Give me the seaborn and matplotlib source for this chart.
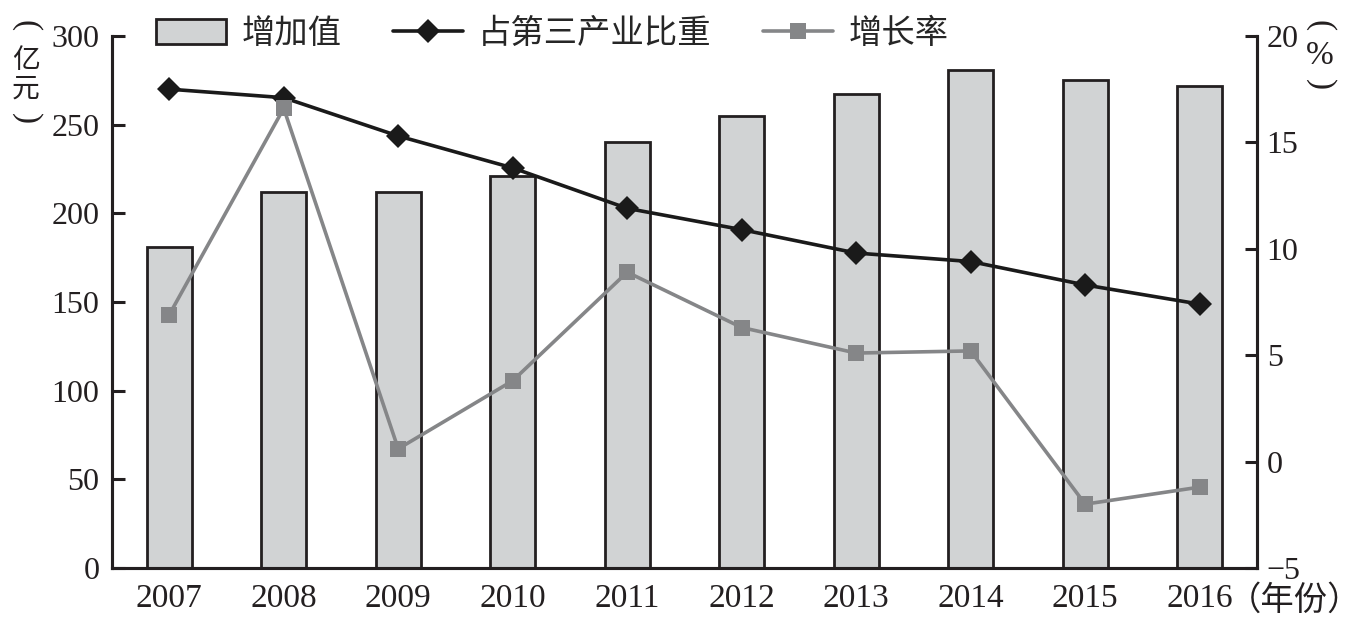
import numpy as np
import pandas as pd
import matplotlib
matplotlib.use('Agg')
import matplotlib.pyplot as plt
import seaborn as sns
from matplotlib.ticker import FixedLocator

# dados
anos = ['2007', '2008', '2009', '2010', '2011', '2012', '2013', '2014', '2015', '2016']
valor_agregado = [181, 212, 212, 221, 240, 255, 267, 281, 275, 272]       # 亿元
peso_terciario = [17.5, 17.1, 15.3, 13.8, 11.9, 10.9, 9.8, 9.4, 8.3, 7.4]  # %
taxa_crescimento = [6.9, 16.6, 0.6, 3.8, 8.9, 6.3, 5.1, 5.2, -2.0, -1.2]  # %

sns.set_theme(style='white')
plt.rcParams['font.family'] = ['Liberation Serif', 'Noto Sans CJK SC']
plt.rcParams['axes.unicode_minus'] = True

preto = '#231f20'
W, H = 1364, 629

df = pd.DataFrame({'ano': anos, 'valor': valor_agregado,
                   'peso': peso_terciario, 'taxa': taxa_crescimento})
df['pos'] = np.arange(len(anos))

fig = plt.figure(figsize=(13.64, 6.29), dpi=100)
ax = fig.add_axes([0.0821, 0.097, 0.8394, 0.8458])

sns.barplot(data=df, x='ano', y='valor', ax=ax, color='#d1d3d4',
            edgecolor=preto, linewidth=2, width=0.39, saturation=1,
            label='增加值')
ax.set_xlim(-0.5, 9.5)
ax.set_ylim(0, 300)
ax.set_yticks(range(0, 301, 50))
ax.set_xlabel('')
ax.set_ylabel('')

ax2 = ax.twinx()
sns.lineplot(data=df, x='pos', y='peso', ax=ax2, color='#1a1a1a', lw=2.6,
             marker='D', markersize=12.5, markeredgewidth=0, label='占第三产业比重')
sns.lineplot(data=df, x='pos', y='taxa', ax=ax2, color='#858688', lw=2.6,
             marker='s', markersize=11.5, markeredgewidth=0, label='增长率')
ax2.set_ylim(-5, 20)
ax2.set_yticks(range(-5, 21, 5))
ax2.set_xlim(-0.5, 9.5)
ax2.set_xlabel('')
ax2.set_ylabel('')

h1, l1 = ax.get_legend_handles_labels()
h2, l2 = ax2.get_legend_handles_labels()
if ax.get_legend() is not None:
    ax.get_legend().remove()
ax2.get_legend().remove()

for a in (ax, ax2):
    for s in a.spines.values():
        s.set_color(preto)
        s.set_linewidth(2.2)
    a.spines['top'].set_visible(False)

ax.tick_params(axis='y', direction='in', length=9, width=2.2, labelsize=23,
               pad=9, colors=preto)
ax2.tick_params(axis='y', direction='in', length=9, width=2.2, labelsize=23,
                pad=7, colors=preto)
ax.tick_params(axis='x', which='major', length=0, labelsize=24, pad=11,
               colors=preto)
ax.xaxis.set_minor_locator(FixedLocator(np.arange(0.5, 9, 1)))
ax.tick_params(axis='x', which='minor', direction='in', length=9, width=2.2,
               colors=preto)


def texto_vertical(x, itens):
    # cada caractere da unidade em pé; os parênteses girados
    for ch, y, rot in itens:
        serif = ch in '()%'
        fig.text(x / W, 1 - y / H, ch, fontsize=24 if serif else 20,
                 ha='center', va='center', rotation=rot, color=preto,
                 family='Liberation Serif' if serif else 'Noto Sans CJK SC')


texto_vertical(26, [('(', 26, -90), ('亿', 60, 0), ('元', 89, 0), (')', 119, -90)])
texto_vertical(1320, [('(', 26, -90), ('%', 56, 0), (')', 85, -90)])
fig.text(0.900, 0.045, '（年份）', fontsize=24, va='center', ha='left',
         color=preto)

fig.legend(h1 + h2, l1 + l2, ncol=3, loc='upper left',
           bbox_to_anchor=(0.100, 1.002), frameon=False, fontsize=24,
           handlelength=2.1, handleheight=0.75, columnspacing=1.55,
           handletextpad=0.45, borderaxespad=0.2)

fig.savefig('out.png', dpi=100)
